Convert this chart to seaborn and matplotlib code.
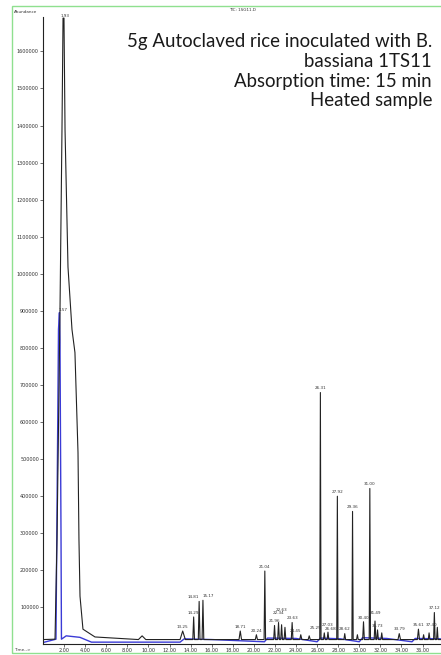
import seaborn as sns
import matplotlib.pyplot as plt
import pandas as pd
from matplotlib.patches import Rectangle

sns.set_style("white")
plt.rcParams['font.family'] = ['DejaVu Sans']

# main solvent peak of the TIC trace (min, abundance)
main_t = [0.0, 1.14, 1.33, 1.61, 1.80, 1.90, 1.99, 2.09, 2.37, 2.75, 3.03, 3.32, 3.41, 3.51, 3.79, 4.93]
main_a = [12000, 13000, 283000, 895000, 1388000, 1690000, 1690000, 1388000, 1018000,
          849000, 787000, 517000, 283000, 129000, 40000, 19000]

# smaller peaks (retention time, apex abundance)
peak_t = [9.40, 13.25, 14.29, 14.81, 15.17, 18.71, 20.24, 21.04, 21.96, 22.34, 22.63, 22.95,
          23.63, 24.45, 25.25, 26.31, 26.68, 27.03, 27.92, 28.62, 29.36, 29.82, 30.40, 31.00,
          31.49, 31.73, 32.13, 33.79, 35.61, 36.10, 36.62, 37.12, 37.40]
peak_a = [22000, 35000, 73000, 115000, 118000, 35000, 25000, 197000, 50000, 58000, 52000, 45000,
          58000, 25000, 22000, 679000, 30000, 32000, 399000, 28000, 358000, 25000, 60000, 420000,
          62000, 38000, 30000, 28000, 40000, 25000, 30000, 85000, 45000]
peak_w = [0.35, 0.25, 0.08, 0.08, 0.08, 0.12, 0.10, 0.07, 0.08, 0.08, 0.08, 0.08,
          0.08, 0.10, 0.10, 0.06, 0.08, 0.08, 0.06, 0.08, 0.06, 0.08, 0.08, 0.06,
          0.08, 0.08, 0.08, 0.12, 0.10, 0.08, 0.08, 0.07, 0.07]
labelled = ['13.25', '14.29', '14.81', '15.17', '18.71', '20.24', '21.04', '21.96', '22.34',
            '22.63', '23.63', '24.45', '25.25', '26.31', '26.68', '27.03', '27.92', '28.62',
            '29.36', '30.40', '31.00', '31.49', '31.73', '33.79', '35.61', '37.12', '37.40']

# second (blue) trace
blue_t = [0.0, 1.23, 1.47, 1.56, 1.61, 1.71, 1.75, 2.2, 3.5, 4.6, 13.0, 13.4, 16.0, 21.0, 21.3,
          24.0, 26.0, 26.3, 28.2, 30.0, 30.3, 32.6, 35.0, 35.3, 37.7]
blue_a = [4000, 13000, 850000, 895000, 822000, 283000, 13000, 22000, 18000, 5000, 5000, 14000,
          12000, 6000, 16000, 15000, 6000, 16000, 14000, 6000, 17000, 15000, 6000, 15000, 14000]

baseline = 12000
ts, ys = list(main_t), list(main_a)
for t, a, w in zip(peak_t, peak_a, peak_w):
    ts += [t - w, t, t + w]
    ys += [baseline, a, baseline]
ts.append(37.8)
ys.append(baseline)
black = pd.DataFrame({'t': ts, 'a': ys}).sort_values('t', kind='stable')
blue = pd.DataFrame({'t': blue_t, 'a': blue_a})

fig = plt.figure(figsize=(4.41, 6.55), dpi=100)
ax = fig.add_axes([43 / 441, 11 / 655, 1 - 43 / 441, (644 - 17) / 655])

sns.lineplot(data=blue, x='t', y='a', ax=ax, color='#3b3bd6', lw=1.0, sort=False, estimator=None)
sns.lineplot(data=black, x='t', y='a', ax=ax, color='#222222', lw=0.8, sort=False, estimator=None)

ax.set_xlim(0, 37.75)
ax.set_ylim(0, 1693000)
ax.set_xticks([2, 4, 6, 8, 10, 12, 14, 16, 18, 20, 22, 24, 26, 28, 30, 32, 34, 36])
ax.set_xticklabels([f"{v:.2f}" for v in ax.get_xticks()])
ax.set_xticks([v / 2 for v in range(1, 76)], minor=True)
ax.set_yticks(range(100000, 1700000, 100000))
ax.set_yticklabels([str(v) for v in range(100000, 1700000, 100000)])
ax.tick_params(axis='both', which='major', labelsize=3.5, length=2, width=0.5,
               colors='#333333', pad=1)
ax.tick_params(axis='x', which='minor', length=1.2, width=0.4, colors='#333333')
ax.tick_params(left=True, bottom=True)
ax.set_xlabel('')
ax.set_ylabel('')
for s in ['top', 'right']:
    ax.spines[s].set_visible(False)
for s in ['left', 'bottom']:
    ax.spines[s].set_linewidth(0.8)
    ax.spines[s].set_color('#222222')

# peak labels, a few nudged where they crowd each other
nudge = {'21.96': 0, '22.34': 14000, '22.63': 28000, '27.03': 8000,
         '25.25': 9000, '31.49': 10000, '37.40': -4000}
align = {'14.81': 'right', '15.17': 'left', '37.40': 'right', '24.45': 'right',
         '25.25': 'left', '26.68': 'left'}
for t, a in zip(peak_t, peak_a):
    lab = f"{t:.2f}"
    if lab in labelled:
        ax.text(t, a + 6000 + nudge.get(lab, 0), lab, fontsize=3, ha=align.get(lab, 'center'),
                va='bottom', color='#333333')
ax.text(2.05, 1690000, '1.93', fontsize=3, ha='center', va='bottom', color='#333333')
ax.text(1.9, 897000, '1.57', fontsize=3, ha='center', va='bottom', color='#333333')

fig.text(14 / 441, 1 - 12 / 655, 'Abundance', fontsize=3, va='center', color='#333333')
fig.text(243 / 441, 1 - 10 / 655, 'TIC: 1SG11.D', fontsize=3, ha='center', va='center',
         color='#333333')
fig.text(14 / 441, 1 - 650 / 655, 'Time-->', fontsize=3, va='center', color='#333333')

fig.text(432 / 441, 1 - 33 / 655,
         '5g Autoclaved rice inoculated with B.\nbassiana 1TS11\nAbsorption time: 15 min\nHeated sample',
         fontsize=13.4, ha='right', va='top', family=['Lato', 'DejaVu Sans'],
         linespacing=1.2, color='#1a1a1a')

fig.patches.append(Rectangle((12 / 441, 2 / 655), 1.2, 647 / 655, transform=fig.transFigure,
                             fill=False, edgecolor='#8fe08f', lw=1.0))

plt.savefig('out.png')
plt.close()
